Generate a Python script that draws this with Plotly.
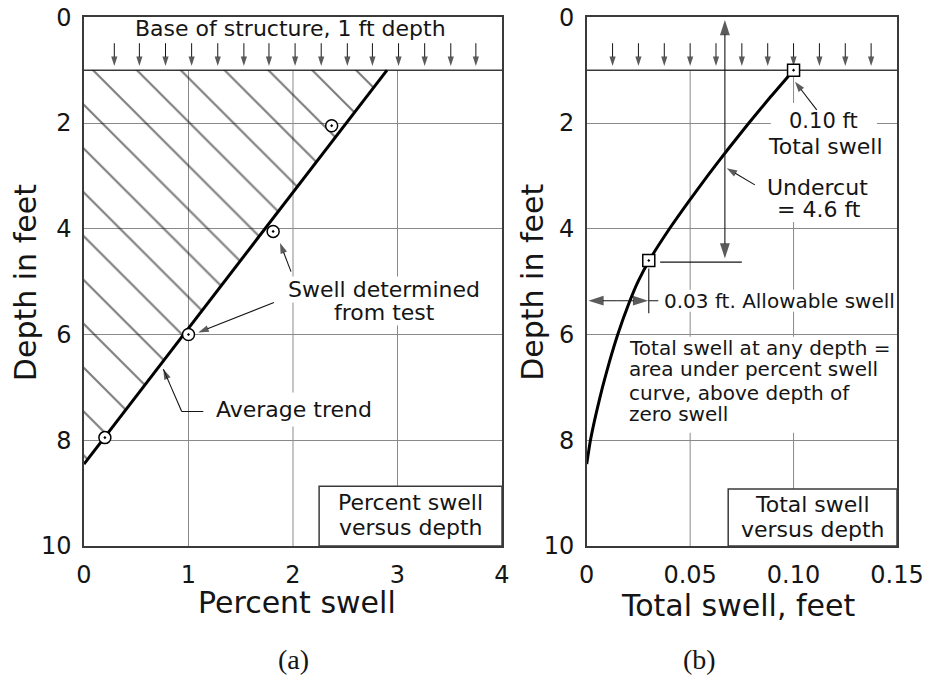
import plotly.graph_objects as go

# ---------------- Data: (a) percent swell versus depth ----------------
pct_ticks = [0, 1, 2, 3, 4]
depth_ticks = [0, 2, 4, 6, 8, 10]
trend_pct = [0.0, 2.9]            # average trend line, percent swell
trend_depth = [8.45, 1.0]         # depth (ft) at the trend end points
test_pct = [2.37, 1.81, 1.0, 0.2]  # swell determined from test
test_depth = [2.05, 4.05, 6.0, 7.95]
structure_depth = 1.0             # base of structure
load_pct = [0.29, 0.53, 0.78, 1.03, 1.28, 1.53, 1.77, 2.02, 2.27, 2.52,
            2.76, 3.01, 3.26, 3.51, 3.75]

# ---------------- Data: (b) total swell versus depth ----------------
total_ticks = [0, 0.05, 0.10, 0.15]
total_tick_text = ["0", "0.05", "0.10", "0.15"]
total_depth = [1.0, 1.5, 2.0, 2.5, 3.0, 3.5, 4.0, 4.6, 5.0, 5.4, 6.0, 6.5,
               7.0, 7.5, 8.0, 8.45]
total_ft = [0.100, 0.0890, 0.0784, 0.0682, 0.0584, 0.0490, 0.0400, 0.0302,
            0.0248, 0.0205, 0.0150, 0.0111, 0.0076, 0.0045, 0.0018, 0.0]
key_ft = [0.10, 0.03]
key_depth = [1.0, 4.6]
load_ft = [0.0125, 0.025, 0.0375, 0.05, 0.0625, 0.075, 0.0875, 0.10,
           0.1125, 0.125, 0.1375]

INK = "#151515"
GRID = "#8a8a8a"
FRAME = "#3a3a3a"
FONT = "DejaVu Sans"

fig = go.Figure()

# hatched area under the percent-swell trend
fig.add_trace(go.Scatter(
    x=[trend_pct[0], trend_pct[1], trend_pct[0], trend_pct[0]],
    y=[structure_depth, trend_depth[1], trend_depth[0], structure_depth],
    mode="lines", fill="toself", fillcolor="rgba(0,0,0,0)",
    fillpattern=dict(shape="\\", fgcolor="#000000", bgcolor="rgba(0,0,0,0)",
                     size=31, solidity=0.07),
    line=dict(width=0, color="rgba(0,0,0,0)"),
    xaxis="x", yaxis="y", hoverinfo="skip", showlegend=False))


def add_arrows(paths, xa, ya, size, width=1.1):
    xs, ys, ss = [], [], []
    for path in paths:
        for i, (px, py) in enumerate(path):
            xs.append(px)
            ys.append(py)
            ss.append(size if i == len(path) - 1 else 0)
        xs.append(None)
        ys.append(None)
        ss.append(0)
    fig.add_trace(go.Scatter(
        x=xs, y=ys, xaxis=xa, yaxis=ya, mode="lines+markers",
        line=dict(color=INK, width=width),
        marker=dict(symbol="arrow", size=ss, color=INK, angleref="previous",
                    line=dict(width=0)),
        hoverinfo="skip", showlegend=False, cliponaxis=False))


# load arrows on base of structure
add_arrows([[(v, 0.49), (v, 0.92)] for v in load_pct], "x", "y", 10, 1.0)
add_arrows([[(v, 0.49), (v, 0.92)] for v in load_ft], "x2", "y2", 10, 1.0)

# trend line + test points
fig.add_trace(go.Scatter(x=trend_pct, y=trend_depth, mode="lines",
                         line=dict(color="black", width=3),
                         xaxis="x", yaxis="y", hoverinfo="skip", showlegend=False))
fig.add_trace(go.Scatter(x=test_pct, y=test_depth, mode="markers",
                         marker=dict(symbol="circle-dot", size=12, color="white",
                                     line=dict(color="black", width=1.5)),
                         xaxis="x", yaxis="y", hoverinfo="skip", showlegend=False))

# leaders in (a)
add_arrows([[(1.981, 4.81), (1.876, 4.27)],
            [(1.818, 5.395), (1.094, 5.962)],
            [(1.142, 7.456), (0.935, 7.456), (0.759, 6.654)]], "x", "y", 11)

# total swell curve
fig.add_trace(go.Scatter(x=total_ft, y=total_depth, mode="lines",
                         line=dict(color="black", width=3, shape="spline", smoothing=0.6),
                         xaxis="x2", yaxis="y2", hoverinfo="skip", showlegend=False))

# dimension lines in (b)
ux = 0.0668
add_arrows([[(ux, 2.3), (ux, 0.05)], [(ux, 2.3), (ux, key_depth[1] - 0.04)]],
           "x2", "y2", 16)
dim_y = 5.36
add_arrows([[(0.015, dim_y), (0.0008, dim_y)], [(0.015, dim_y), (key_ft[1] - 0.0003, dim_y)]],
           "x2", "y2", 16)
# extension lines
fig.add_trace(go.Scatter(
    x=[key_ft[1], key_ft[1], None, key_ft[1] + 0.0055, 0.075, None, key_ft[1], key_ft[1] + 0.0046],
    y=[key_depth[1] + 0.15, 5.6, None, key_depth[1] + 0.03, key_depth[1] + 0.03, None, dim_y, dim_y],
    mode="lines", line=dict(color=INK, width=1.1),
    xaxis="x2", yaxis="y2", hoverinfo="skip", showlegend=False))
# leaders in (b)
add_arrows([[(0.1112, 1.752), (0.1007, 1.217)],
            [(0.0813, 3.17), (0.0677, 2.854)]], "x2", "y2", 11)

fig.add_trace(go.Scatter(x=key_ft, y=key_depth, mode="markers",
                         marker=dict(symbol="square-dot", size=12, color="white",
                                     line=dict(color="black", width=1.5)),
                         xaxis="x2", yaxis="y2", hoverinfo="skip", showlegend=False,
                         cliponaxis=False))

# ---------------- shapes ----------------
shapes = []
for v in pct_ticks[1:-1]:
    shapes.append(dict(type="line", xref="x", yref="y", x0=v, x1=v, y0=structure_depth,
                       y1=depth_ticks[-1], line=dict(color=GRID, width=1), layer="between"))
for v in total_ticks[1:-1]:
    shapes.append(dict(type="line", xref="x2", yref="y2", x0=v, x1=v, y0=structure_depth,
                       y1=depth_ticks[-1], line=dict(color=GRID, width=1), layer="between"))
shapes.append(dict(type="line", xref="x", yref="y", x0=pct_ticks[0], x1=pct_ticks[-1],
                   y0=structure_depth, y1=structure_depth, line=dict(color=FRAME, width=1.5),
                   layer="between"))
shapes.append(dict(type="line", xref="x2", yref="y2", x0=total_ticks[0], x1=total_ticks[-1],
                   y0=structure_depth, y1=structure_depth, line=dict(color=FRAME, width=1.5),
                   layer="between"))
# white backgrounds behind text in (b)
for (xa, ya, xb, yb) in [(0.089, 1.62, 0.1403, 3.87), (0.0355, 5.155, 0.1466, 5.571),
                         (0.0161, 6.04, 0.1466, 7.86)]:
    shapes.append(dict(type="rect", xref="x2", yref="y2", x0=xa, x1=xb, y0=ya, y1=yb,
                       fillcolor="white", line=dict(width=0), layer="between"))
# caption boxes
shapes.append(dict(type="rect", xref="x", yref="y", x0=2.25, x1=4, y0=8.87, y1=10,
                   fillcolor="white", line=dict(color=FRAME, width=1.5), layer="above"))
shapes.append(dict(type="rect", xref="x2", yref="y2", x0=0.0684, x1=0.15, y0=8.92, y1=10,
                   fillcolor="white", line=dict(color=FRAME, width=1.5), layer="above"))

# ---------------- annotations ----------------
ann = []


def txt(text, x, y, size=22, xref="x", yref="y", xanchor="center", bg=None, pad=0,
        font=FONT, angle=0):
    d = dict(text=text, x=x, y=y, xref=xref, yref=yref, xanchor=xanchor, yanchor="middle",
             showarrow=False, font=dict(family=font, size=size, color=INK), borderpad=pad,
             textangle=angle)
    if bg:
        d["bgcolor"] = bg
    ann.append(d)


txt("Base of structure, 1 ft depth", 1.98, 0.22, 22)
txt("Swell determined", 2.875, 5.14, 22, bg="white")
txt("from test", 2.88, 5.58, 22, bg="white")
txt("Average trend", 2.01, 7.42, 22, bg="white", pad=4)
txt("Percent swell", 3.126, 9.18, 22)
txt("versus depth", 3.126, 9.654, 22)

txt("0.10 ft", 0.1144, 1.97, 21, "x2", "y2")
txt("Total swell", 0.1154, 2.446, 22, "x2", "y2")
txt("Undercut", 0.1117, 3.22, 22, "x2", "y2")
txt("= 4.6 ft", 0.1123, 3.643, 22, "x2", "y2")
txt("0.03 ft. Allowable swell", 0.0367, 5.363, 20, "x2", "y2", xanchor="left")
for s, d in zip(["Total swell at any depth =", "area under percent swell",
                 "curve, above depth of", "zero swell"], [6.25, 6.66, 7.10, 7.51]):
    txt(s, 0.0201, d, 20, "x2", "y2", xanchor="left")
txt("Total swell", 0.1092, 9.219, 22, "x2", "y2")
txt("versus depth", 0.1092, 9.692, 22, "x2", "y2")

# axis titles and panel labels
txt("Percent swell", 0.3216, 0.1067, 30, "paper", "paper")
txt("Total swell, feet", 0.7973, 0.1025, 30, "paper", "paper")
for x in [0.027, 0.5748]:
    txt("Depth in feet", x, 0.582, 30, "paper", "paper", angle=-90)
txt("(a)", 0.3178, 0.0237, 28, "paper", "paper", font="Liberation Serif")
txt("(b)", 0.7557, 0.0237, 28, "paper", "paper", font="Liberation Serif")

axis_common = dict(showline=True, mirror=True, linecolor=FRAME, linewidth=1.5,
                   zeroline=False, ticks="", tickfont=dict(family=FONT, size=24, color=INK),
                   ticklabelstandoff=6, automargin=False)
ydom = [0.1911, 0.9744]

fig.update_layout(
    width=925, height=675, autosize=False,
    margin=dict(l=0, r=0, t=0, b=0, autoexpand=False),
    paper_bgcolor="white", plot_bgcolor="white",
    showlegend=False,
    xaxis=dict(domain=[0.0908, 0.5427], range=[0, 4], tickvals=pct_ticks,
               showgrid=False, anchor="y", **axis_common),
    yaxis=dict(domain=ydom, range=[10, 0], tickvals=depth_ticks, showgrid=True,
               gridcolor=GRID, gridwidth=1, anchor="x", **axis_common),
    xaxis2=dict(domain=[0.6343, 0.9697], range=[0, 0.15], tickvals=total_ticks,
                ticktext=total_tick_text, showgrid=False, anchor="y2", **axis_common),
    yaxis2=dict(domain=ydom, range=[10, 0], tickvals=depth_ticks, showgrid=True,
                gridcolor=GRID, gridwidth=1, anchor="x2", **axis_common),
    shapes=shapes,
    annotations=ann,
)

fig.write_html("out.html")
